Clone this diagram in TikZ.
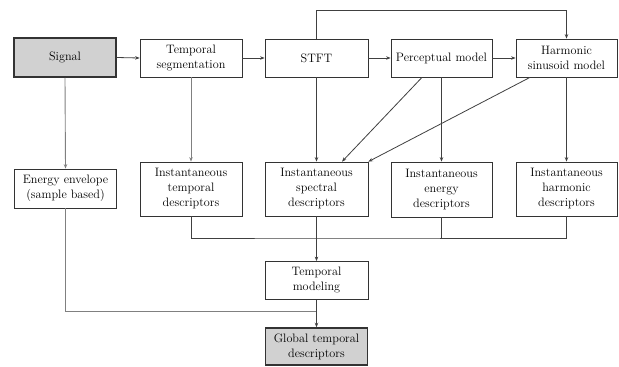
\documentclass[tikz,border=0pt]{standalone}
\usetikzlibrary{arrows.meta}
\begin{document}
\begin{tikzpicture}[x=1pt,y=-1pt,
  box/.style={draw=black!80,line width=0.75pt,fill=white,align=center,inner sep=1pt,
    font=\fontsize{12.2}{15}\selectfont},
  gbox/.style={box,fill=black!18,line width=1.5pt},
  conn/.style={draw=black!75,line width=0.8pt},
  lconn/.style={draw=black!50,line width=0.9pt},
  arr/.style={-{Stealth[length=4.5pt,width=3.5pt]}}]
\useasboundingbox (0,0) rectangle (619,367);
\fill[white] (0,0) rectangle (619,367);
% row 1
\node[gbox,minimum width=102pt,minimum height=39pt] (sig) at (65,57.5) {Signal};
\node[box,minimum width=102pt,minimum height=38pt] (ts) at (191,58) {Temporal\\segmentation};
\node[box,minimum width=103pt,minimum height=38pt] (stft) at (316.5,58) {STFT};
\node[box,minimum width=101pt,minimum height=38pt] (pm) at (441.5,58) {Perceptual model};
\node[box,minimum width=101pt,minimum height=38pt] (hs) at (566.5,58) {Harmonic\\sinusoid model};
% row 2
\node[box,minimum width=102pt,minimum height=39pt] (ee) at (65.5,188.5) {Energy envelope\\(sample based)};
\node[box,minimum width=102pt,minimum height=54pt] (it) at (191,189) {Instantaneous\\temporal\\descriptors};
\node[box,minimum width=103pt,minimum height=54pt] (is) at (316.5,189) {Instantaneous\\spectral\\descriptors};
\node[box,minimum width=101pt,minimum height=55pt] (ie) at (441.5,189.5) {Instantaneous\\energy\\descriptors};
\node[box,minimum width=101pt,minimum height=54pt] (ih) at (566.5,189) {Instantaneous\\harmonic\\descriptors};
% bottom
\node[box,minimum width=103pt,minimum height=38pt] (tm) at (316.5,280.5) {Temporal\\modeling};
\node[gbox,minimum width=102pt,minimum height=37pt] (gt) at (316.5,346.5) {Global temporal\\descriptors};
% coordinates
\coordinate (top) at (316.5,10);
\coordinate (bus) at (316.5,238);
\coordinate (j2) at (316.5,311);
% connectors
\draw[conn,arr] (sig.east) -- (ts.west);
\draw[conn,arr] (ts.east) -- (stft.west);
\draw[conn,arr] (stft.east) -- (pm.west);
\draw[conn,arr] (pm.east) -- (hs.west);
\draw[conn,arr] (stft.north) -- (top) -| (hs.north);
\draw[lconn,arr] (sig.south) -- (ee.north);
\draw[lconn,arr] (ts.south) -- (it.north);
\draw[conn,arr] (stft.south) -- (is.north);
\draw[conn,arr] (pm.south) -- (ie.north);
\draw[conn,arr] (hs.south) -- (ih.north);
\draw[conn,arr] ([xshift=-19.5pt]pm.south) -- ([xshift=25.5pt]is.north);
\draw[conn,arr] ([xshift=-36.5pt]hs.south) -- (is.north east);
\draw[conn] (it.south) |- (bus) -| (ih.south);
\draw[conn] (ie.south) -- (ie.south |- bus);
\draw[conn,arr] (is.south) -- (tm.north);
\draw[lconn] (ee.south) |- (j2);
\draw[conn,arr] (tm.south) -- (gt.north);
\end{tikzpicture}
\end{document}
